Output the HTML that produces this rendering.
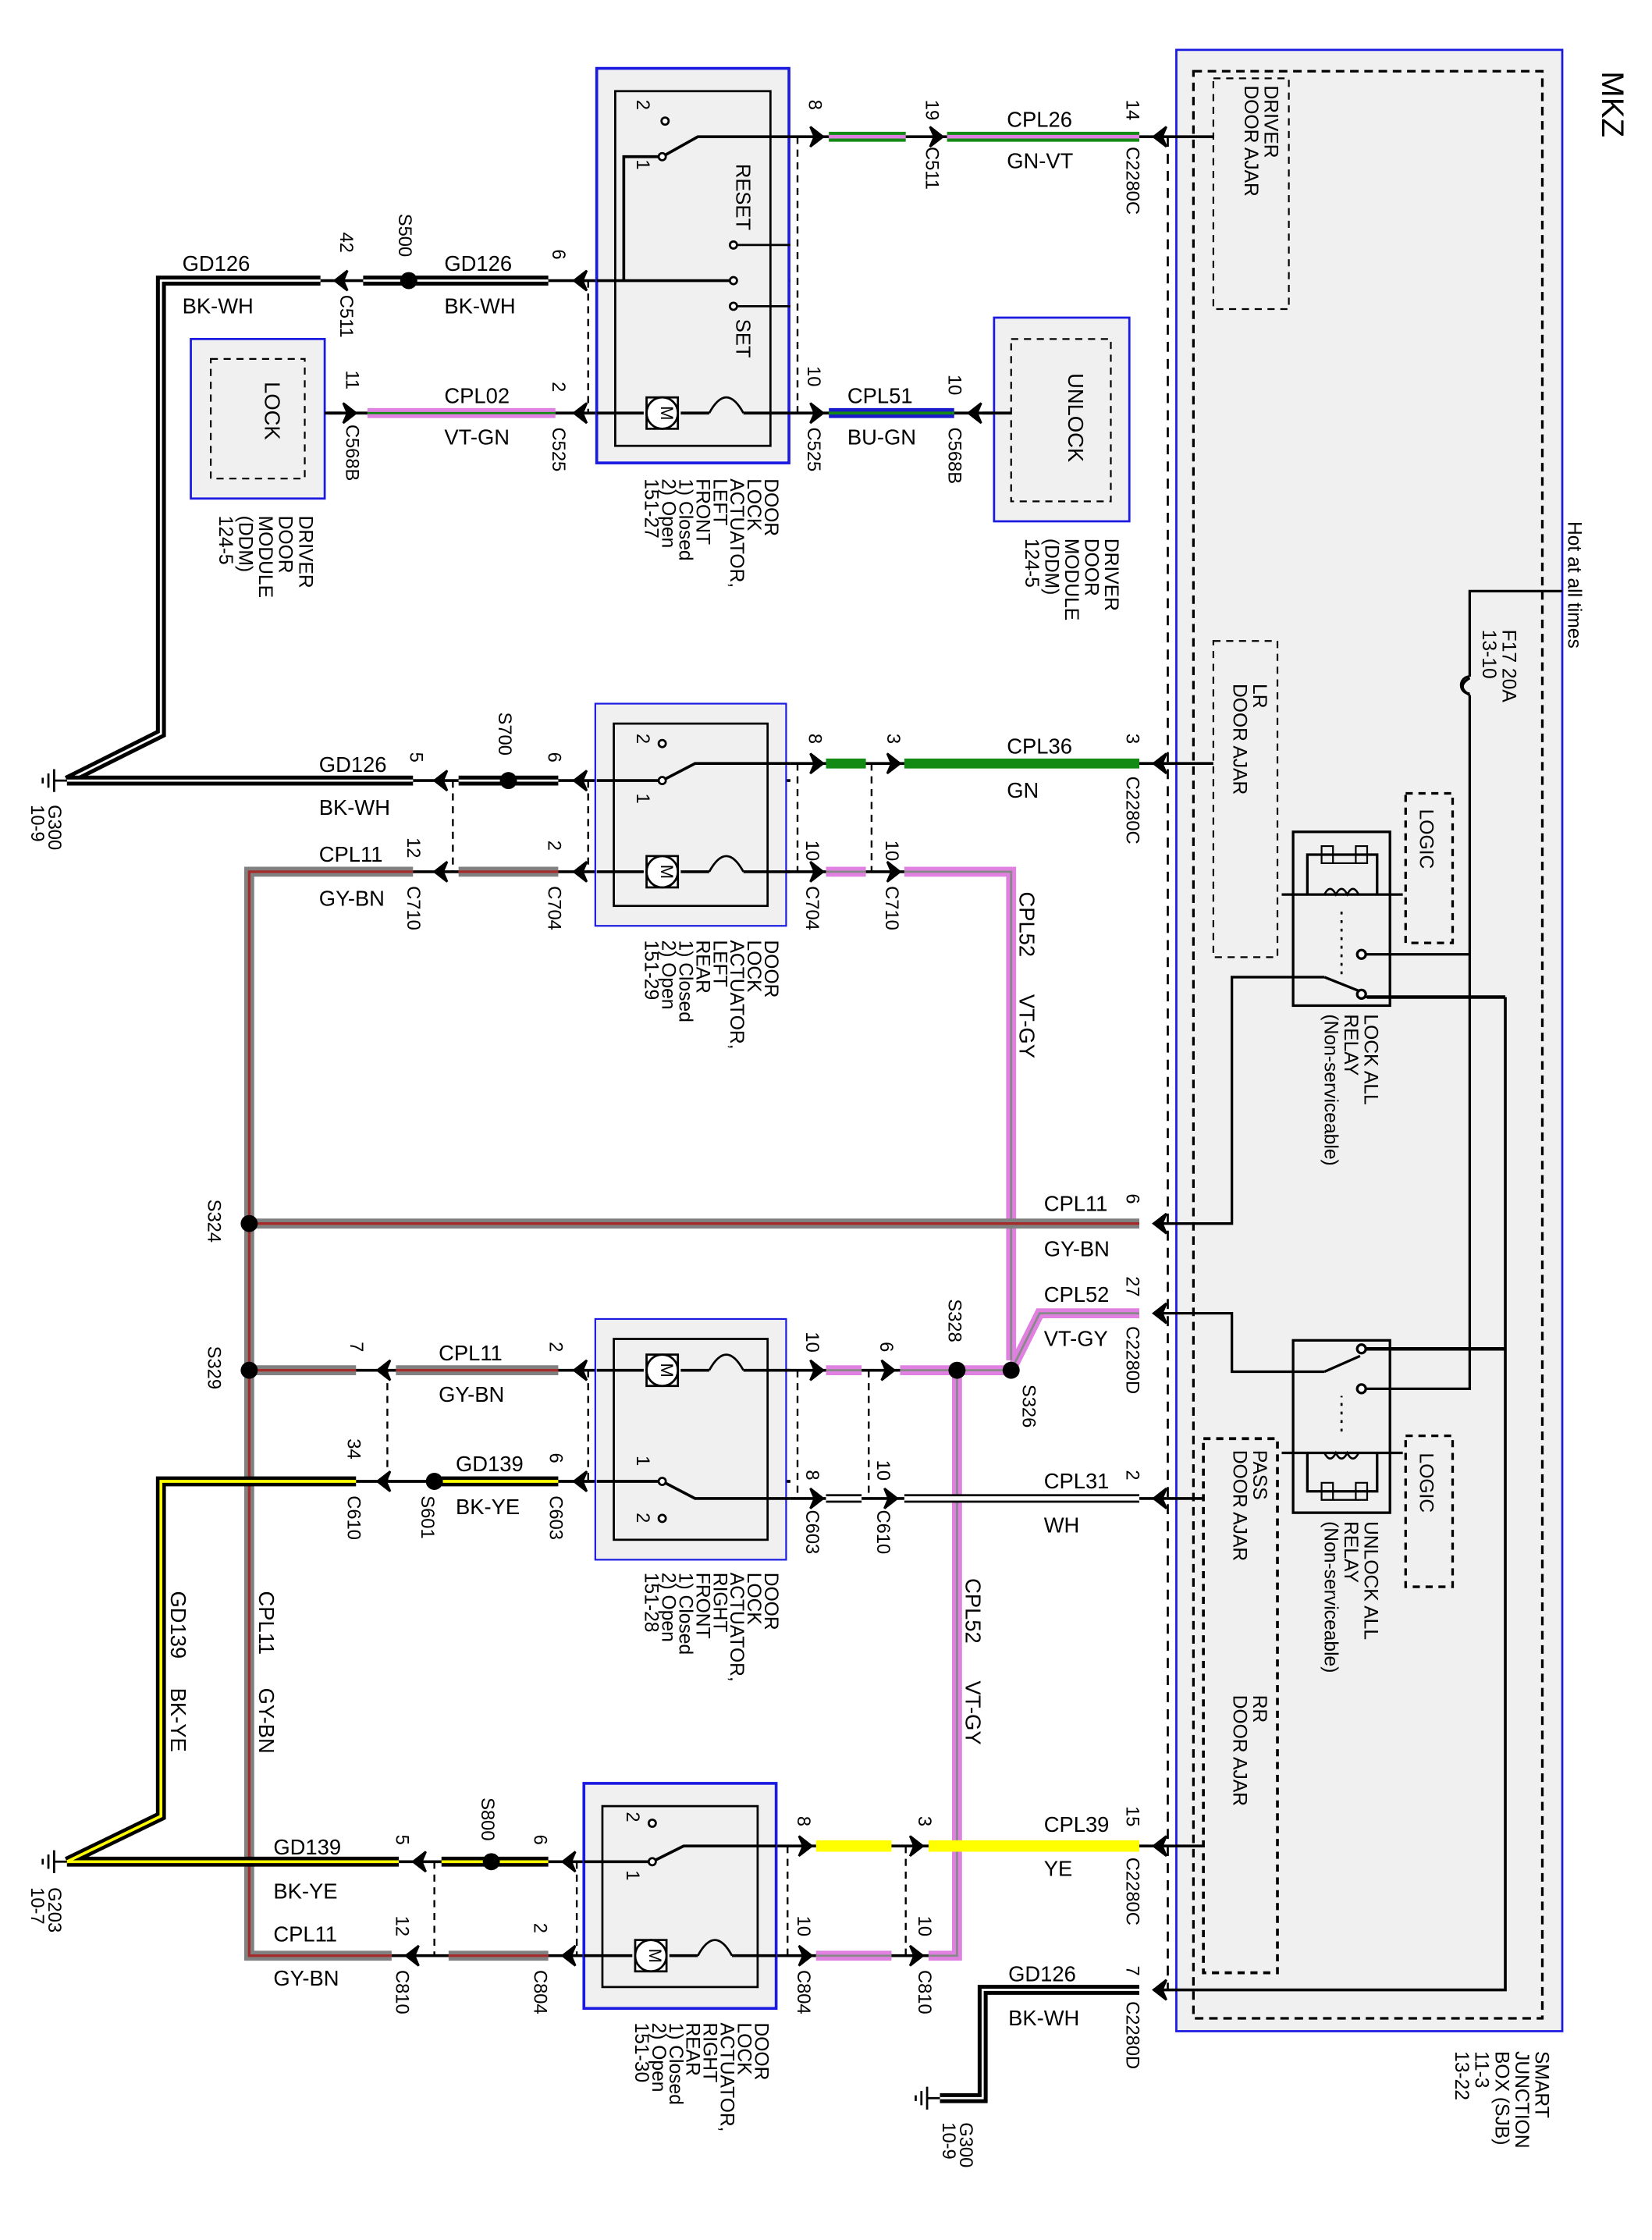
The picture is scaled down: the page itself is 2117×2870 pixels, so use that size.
<!DOCTYPE html>
<html><head><meta charset="utf-8"><style>
html,body{margin:0;padding:0;background:#fff}
svg{display:block}
text{font-family:"Liberation Sans",Arial,sans-serif;fill:#000}
.wl{font-size:15px}
.rt{font-size:13.5px}
.pn{font-size:13px}
</style></head><body>
<svg width="2117" height="2870" viewBox="0 0 1160 1572.6" preserveAspectRatio="none" xmlns="http://www.w3.org/2000/svg">
<defs>
<path id="al" d="M0,0 L9,-7 L6,0 L9,7 Z" fill="#000" stroke="#000" stroke-width="1.5"/>
<path id="ar" d="M0,0 L-9,-7 L-6,0 L-9,7 Z" fill="#000" stroke="#000" stroke-width="1.5"/>
</defs>
<rect width="1160" height="1572.6" fill="#fff"/>

<!-- SJB -->
<rect x="826" y="35" width="271" height="1391" fill="#f0f0f0" stroke="#1a1ae0" stroke-width="1.5"/>
<rect x="838" y="50" width="245" height="1367" fill="none" stroke="#000" stroke-width="1.8" stroke-dasharray="6,4"/>
<text class="wl" font-size="22" style="font-size:22px" transform="translate(1125,50) rotate(90)">MKZ</text>
<text class="rt" transform="translate(1101,366) rotate(90)">Hot at all times</text>
<g class="rt">
<text transform="translate(1078,1440) rotate(90)"><tspan x="0">SMART</tspan><tspan x="0" dy="14">JUNCTION</tspan><tspan x="0" dy="14">BOX (SJB)</tspan><tspan x="0" dy="14">11-3</tspan><tspan x="0" dy="14">13-22</tspan></text>
</g>
<!-- door ajar boxes -->
<g fill="none" stroke="#000" stroke-width="1.2" stroke-dasharray="5,4">
<rect x="852" y="55" width="53" height="162"/>
<rect x="852" y="450" width="45" height="222"/>
<rect x="845" y="1010" width="52" height="375" stroke-width="2"/>
<rect x="987" y="557" width="33" height="105" stroke-width="1.8"/>
<rect x="987" y="1008" width="33" height="106" stroke-width="1.8"/>
</g>
<g class="rt">
<text transform="translate(888,60) rotate(90)"><tspan x="0">DRIVER</tspan><tspan x="0" dy="14">DOOR AJAR</tspan></text>
<text transform="translate(880,480) rotate(90)"><tspan x="0">LR</tspan><tspan x="0" dy="14">DOOR AJAR</tspan></text>
<text transform="translate(880,1018) rotate(90)"><tspan x="0">PASS</tspan><tspan x="0" dy="14">DOOR AJAR</tspan></text>
<text transform="translate(880,1190) rotate(90)"><tspan x="0">RR</tspan><tspan x="0" dy="14">DOOR AJAR</tspan></text>
<text transform="translate(997,568) rotate(90)">LOGIC</text>
<text transform="translate(997,1020) rotate(90)">LOGIC</text>
<text transform="translate(958,712) rotate(90)"><tspan x="0">LOCK ALL</tspan><tspan x="0" dy="14">RELAY</tspan><tspan x="0" dy="14">(Non-serviceable)</tspan></text>
<text transform="translate(958,1068) rotate(90)"><tspan x="0">UNLOCK ALL</tspan><tspan x="0" dy="14">RELAY</tspan><tspan x="0" dy="14">(Non-serviceable)</tspan></text>
<text transform="translate(1055,442) rotate(90)"><tspan x="0">F17   20A</tspan><tspan x="0" dy="14">13-10</tspan></text>
</g>
<!-- power lines -->
<g fill="none" stroke="#000" stroke-width="1.8">
<path d="M1097,415 H1032 V475"/>
<path d="M1032,475 a6,6 0 0 0 0,12 a6,6 0 0 0 0,0"/>
<path d="M1032,476 q-10,6 0,12"/>
<path d="M1032,488 V975 H958"/>
<path d="M1032,670 H958"/>
<path d="M1057,700 V1397 H810" stroke-width="2"/>
<path d="M960,700 H1057" stroke-width="2.5"/>
<path d="M958,947 H1057" stroke-width="2.5"/>
<path d="M810,859 H865 V686 H930"/>
<path d="M810,922 H865 V963 H930"/>
</g>
<!-- relays -->
<g fill="none" stroke="#000" stroke-width="1.8">
<rect x="908" y="584" width="68" height="122"/>
<path d="M900,628 H985 M918,628 V600 H967 V628"/>
<path d="M928,594 h8 v12 h16 v-12 h8 v12 h-32 z" stroke-width="1.2"/>
<path d="M930,628 q4,-8 8,0 q4,-8 8,0 q4,-8 8,0" stroke-width="1.4"/>
<path d="M942,640 V685" stroke-dasharray="2,4" stroke-width="1.5"/>
<path d="M930,686 L955,696 M955,700 H962"/>
<circle cx="956" cy="670" r="3" fill="#fff"/><circle cx="956" cy="698" r="3" fill="#fff"/>
<rect x="908" y="941" width="68" height="121"/>
<path d="M900,1020 H985 M918,1020 V1047 H967 V1020"/>
<path d="M928,1041 h8 v12 h16 v-12 h8 v12 h-32 z" stroke-width="1.2"/>
<path d="M930,1020 q4,8 8,0 q4,8 8,0 q4,8 8,0" stroke-width="1.4"/>
<path d="M942,1005 V980" stroke-dasharray="2,4" stroke-width="1.5"/>
<path d="M930,963 L955,952"/>
<circle cx="956" cy="947" r="3" fill="#fff"/><circle cx="956" cy="975" r="3" fill="#fff"/>
</g>

<!-- SJB dashed connector line -->
<path d="M820,96 V1397" stroke="#000" stroke-width="1.5" stroke-dasharray="7,5" fill="none"/>

<!-- ===== base black thin lines ===== -->
<g stroke="#000" stroke-width="2" fill="none">
<path d="M555,96 H852"/>
<path d="M230,290 H555 M555,290 H698"/>
<path d="M555,536 H852"/>
<path d="M555,612 H710 M555,548 H290"/>
<path d="M555,962 H710 M555,1052 H845"/>
<path d="M555,1040 H250"/>
<path d="M545,1296 H845 M545,1373 H672 M545,1307 H280 M545,1373 H175"/>
<path d="M555,197 H225"/>
<path d="M555,612 H175"/>
<path d="M555,962 H175"/>
</g>

<!-- ===== coloured wires ===== -->
<!-- GN-VT -->
<g fill="none">
<path d="M582,96 H636 M665,96 H800" stroke="#138a13" stroke-width="7"/>
<path d="M582,96 H636 M665,96 H800" stroke="#e080e0" stroke-width="2.5"/>
<!-- VT-GN -->
<path d="M258,290 H390" stroke="#e080e0" stroke-width="7"/>
<path d="M258,290 H390" stroke="#138a13" stroke-width="1.5"/>
<!-- BU-GN -->
<path d="M582,290 H670" stroke="#1a1acc" stroke-width="7"/>
<path d="M582,290 H670" stroke="#138a13" stroke-width="2"/>
<!-- GN solid -->
<path d="M580,536 H608 M635,536 H800" stroke="#138a13" stroke-width="7"/>
<!-- BK-WH GD126 top -->
<path d="M225,197 H113 V515 L47,548 M255,197 H385" stroke="#000" stroke-width="7"/>
<path d="M225,197 H113 V515 L47,548 M255,197 H385" stroke="#fff" stroke-width="1.5"/>
<path d="M290,548 H47 M322,548 H392" stroke="#000" stroke-width="7"/>
<path d="M290,548 H47 M322,548 H392" stroke="#fff" stroke-width="1.5"/>
<!-- BK-WH bottom -->
<path d="M800,1397 H690 V1473 H660" stroke="#000" stroke-width="7"/>
<path d="M800,1397 H690 V1473 H660" stroke="#fff" stroke-width="1.5"/>
<!-- VT-GY CPL52 -->
<path d="M580,612 H608 M635,612 H710 V955 M800,922 H730 L710,962 M580,962 H605 M632,962 H710 M672,962 V1373 H652 M573,1373 H626" stroke="#e080e0" stroke-width="7"/>
<path d="M580,612 H608 M635,612 H710 V955 M800,922 H730 L710,962 M580,962 H605 M632,962 H710 M672,962 V1373 H652 M573,1373 H626" stroke="#888" stroke-width="1.5"/>
<!-- GY-BN CPL11 -->
<path d="M290,612 H175 V1373 H275 M322,612 H392 M175,859 H800 M175,962 H250 M278,962 H392 M315,1373 H385" stroke="#808080" stroke-width="7"/>
<path d="M290,612 H175 V1373 H275 M322,612 H392 M175,859 H800 M175,962 H250 M278,962 H392 M315,1373 H385" stroke="#a52a2a" stroke-width="1.8"/>
<!-- BK-YE GD139 -->
<path d="M250,1040 H113 V1275 L47,1307 M310,1040 H392 M280,1307 H47 M310,1307 H385" stroke="#000" stroke-width="7"/>
<path d="M250,1040 H113 V1275 L47,1307 M310,1040 H392 M280,1307 H47 M310,1307 H385" stroke="#ffff00" stroke-width="2"/>
<!-- YE -->
<path d="M573,1296 H626 M652,1296 H800" stroke="#ffff00" stroke-width="8"/>
<!-- WH -->
<path d="M580,1052 H605 M635,1052 H800" stroke="#000" stroke-width="6"/>
<path d="M580,1052 H605 M635,1052 H800" stroke="#fff" stroke-width="3"/>
</g>

<!-- splices -->
<g fill="#000">
<circle cx="287" cy="197" r="6"/><circle cx="357" cy="548" r="6"/>
<circle cx="175" cy="859" r="6"/><circle cx="175" cy="962" r="6"/>
<circle cx="672" cy="962" r="6"/><circle cx="710" cy="962" r="6"/>
<circle cx="305" cy="1040" r="6"/><circle cx="345" cy="1307" r="6"/>
</g>

<!-- ground symbols -->
<g stroke="#000" stroke-width="1.5" fill="none">
<path d="M47,548 H38 M38,540 V556 M34,543 V553 M30,546 V550"/>
<path d="M47,1307 H38 M38,1299 V1315 M34,1302 V1312 M30,1305 V1309"/>
<path d="M660,1473 H651 M651,1465 V1481 M647,1468 V1478 M643,1471 V1475"/>
</g>

<!-- dashed connector ties -->
<g stroke="#000" stroke-width="1.3" stroke-dasharray="5,4" fill="none">
<path d="M413,197 V290 M560,96 V290"/>
<path d="M413,548 V612 M318,548 V612 M560,536 V612 M612,536 V612"/>
<path d="M413,962 V1040 M272,962 V1040 M560,962 V1052 M610,962 V1052"/>
<path d="M405,1307 V1373 M305,1307 V1373 M553,1296 V1373 M636,1296 V1373"/>
</g>

<!-- arrows -->
<g>
<use href="#al" x="810" y="96"/><use href="#al" x="810" y="536"/><use href="#al" x="810" y="859"/><use href="#al" x="810" y="922"/><use href="#al" x="810" y="1052"/><use href="#al" x="810" y="1296"/><use href="#al" x="810" y="1397"/>
<use href="#ar" x="578" y="96"/><use href="#ar" x="662" y="96"/>
<use href="#al" x="235" y="197"/><use href="#al" x="403" y="197"/>
<use href="#ar" x="250" y="290"/><use href="#al" x="403" y="290"/><use href="#ar" x="578" y="290"/><use href="#al" x="680" y="290"/>
<use href="#ar" x="578" y="536"/><use href="#ar" x="632" y="536"/>
<use href="#al" x="305" y="548"/><use href="#al" x="403" y="548"/>
<use href="#al" x="305" y="612"/><use href="#al" x="403" y="612"/><use href="#ar" x="578" y="612"/><use href="#ar" x="632" y="612"/>
<use href="#al" x="265" y="962"/><use href="#al" x="403" y="962"/><use href="#ar" x="578" y="962"/><use href="#ar" x="628" y="962"/>
<use href="#al" x="265" y="1040"/><use href="#al" x="403" y="1040"/><use href="#ar" x="578" y="1052"/><use href="#ar" x="630" y="1052"/>
<use href="#al" x="290" y="1307"/><use href="#al" x="395" y="1307"/><use href="#ar" x="570" y="1296"/><use href="#ar" x="648" y="1296"/>
<use href="#al" x="285" y="1373"/><use href="#al" x="395" y="1373"/><use href="#ar" x="570" y="1373"/><use href="#ar" x="648" y="1373"/>
</g>

<!-- DDM boxes -->
<rect x="134" y="238" width="94" height="112" fill="#f0f0f0" stroke="#1a1ae0" stroke-width="1.5"/>
<rect x="148" y="252" width="66" height="84" fill="none" stroke="#000" stroke-width="1.2" stroke-dasharray="5,4"/>
<rect x="698" y="223" width="95" height="143" fill="#f0f0f0" stroke="#1a1ae0" stroke-width="1.5"/>
<rect x="710" y="238" width="70" height="114" fill="none" stroke="#000" stroke-width="1.2" stroke-dasharray="5,4"/>
<path d="M228,290 H240" stroke="#000" stroke-width="2"/>
<path d="M690,290 H710" stroke="#000" stroke-width="2"/>
<text class="rt" transform="translate(186,268) rotate(90)" style="font-size:15px">LOCK</text>
<text class="rt" transform="translate(750,262) rotate(90)" style="font-size:15px">UNLOCK</text>
<text class="rt" transform="translate(210,362) rotate(90)"><tspan x="0">DRIVER</tspan><tspan x="0" dy="14">DOOR</tspan><tspan x="0" dy="14">MODULE</tspan><tspan x="0" dy="14">(DDM)</tspan><tspan x="0" dy="14">124-5</tspan></text>
<text class="rt" transform="translate(776,378) rotate(90)"><tspan x="0">DRIVER</tspan><tspan x="0" dy="14">DOOR</tspan><tspan x="0" dy="14">MODULE</tspan><tspan x="0" dy="14">(DDM)</tspan><tspan x="0" dy="14">124-5</tspan></text>

<!-- actuators -->
<g>
<rect x="419" y="48" width="135" height="277" fill="#f0f0f0" stroke="#1a1ae0" stroke-width="2"/>
<rect x="432" y="64" width="109" height="249" fill="none" stroke="#000" stroke-width="1.5"/>
<rect x="418" y="494" width="134" height="156" fill="#f0f0f0" stroke="#1a1ae0" stroke-width="1.2"/>
<rect x="431" y="508" width="108" height="128" fill="none" stroke="#000" stroke-width="1.5"/>
<rect x="418" y="926" width="134" height="169" fill="#f0f0f0" stroke="#1a1ae0" stroke-width="1.2"/>
<rect x="431" y="940" width="108" height="141" fill="none" stroke="#000" stroke-width="1.5"/>
<rect x="410" y="1252" width="135" height="158" fill="#f0f0f0" stroke="#1a1ae0" stroke-width="2"/>
<rect x="423" y="1268" width="109" height="127" fill="none" stroke="#000" stroke-width="1.5"/>
</g>
<!-- actuator internals -->
<g stroke="#000" stroke-width="2" fill="none">
<!-- LF -->
<path d="M419,197 H515 M438,197 V110 H465 L490,96 H555"/>
<path d="M515,172 H555 M515,215 H555" stroke-width="1.5"/>
<path d="M419,290 H452 M478,290 H498 M522,290 H555"/>
<path d="M498,290 q12,-22 24,0" stroke-width="1.5"/>
<path d="M419,548 H465 L488,536 H555"/>
<path d="M419,612 H452 M478,612 H498 M522,612 H555"/>
<path d="M498,612 q12,-22 24,0" stroke-width="1.5"/>
<path d="M419,962 H452 M478,962 H498 M522,962 H555"/>
<path d="M498,962 q12,-22 24,0" stroke-width="1.5"/>
<path d="M419,1040 H465 L488,1052 H555"/>
<path d="M410,1307 H458 L480,1296 H545"/>
<path d="M410,1373 H444 M470,1373 H490 M514,1373 H545"/>
<path d="M490,1373 q12,-22 24,0" stroke-width="1.5"/>
</g>
<g fill="#fff" stroke="#000" stroke-width="1.5">
<circle cx="465" cy="110" r="2.5"/><circle cx="467" cy="85" r="2.5"/>
<circle cx="515" cy="172" r="2.5"/><circle cx="515" cy="197" r="2.5"/><circle cx="515" cy="215" r="2.5"/>
<circle cx="465" cy="548" r="2.5"/><circle cx="465" cy="522" r="2.5"/>
<circle cx="465" cy="1040" r="2.5"/><circle cx="465" cy="1066" r="2.5"/>
<circle cx="458" cy="1307" r="2.5"/><circle cx="458" cy="1280" r="2.5"/>
<rect x="454" y="279" width="22" height="22"/><circle cx="465" cy="290" r="11"/>
<rect x="454" y="601" width="22" height="22"/><circle cx="465" cy="612" r="11"/>
<rect x="454" y="951" width="22" height="22"/><circle cx="465" cy="962" r="11"/>
<rect x="446" y="1362" width="22" height="22"/><circle cx="457" cy="1373" r="11"/>
</g>
<g class="pn">
<text transform="translate(460,290) rotate(90)" text-anchor="middle" dy="-4" style="font-size:12px">M</text>
<text transform="translate(460,612) rotate(90)" text-anchor="middle" dy="-4" style="font-size:12px">M</text>
<text transform="translate(460,962) rotate(90)" text-anchor="middle" dy="-4" style="font-size:12px">M</text>
<text transform="translate(452,1373) rotate(90)" text-anchor="middle" dy="-4" style="font-size:12px">M</text>
<text transform="translate(447,70) rotate(90)">2</text><text transform="translate(447,112) rotate(90)">1</text>
<text transform="translate(447,515) rotate(90)">2</text><text transform="translate(447,557) rotate(90)">1</text>
<text transform="translate(447,1022) rotate(90)">1</text><text transform="translate(447,1062) rotate(90)">2</text>
<text transform="translate(440,1272) rotate(90)">2</text><text transform="translate(440,1313) rotate(90)">1</text>
</g>
<text class="rt" transform="translate(517,115) rotate(90)" style="font-size:14px">RESET</text>
<text class="rt" transform="translate(517,224) rotate(90)" style="font-size:14px">SET</text>
<g class="rt">
<text transform="translate(537,336) rotate(90)"><tspan x="0">DOOR</tspan><tspan x="0" dy="12">LOCK</tspan><tspan x="0" dy="12">ACTUATOR,</tspan><tspan x="0" dy="12">LEFT</tspan><tspan x="0" dy="12">FRONT</tspan><tspan x="0" dy="12">1) Closed</tspan><tspan x="0" dy="12">2) Open</tspan><tspan x="0" dy="12">151-27</tspan></text>
<text transform="translate(537,660) rotate(90)"><tspan x="0">DOOR</tspan><tspan x="0" dy="12">LOCK</tspan><tspan x="0" dy="12">ACTUATOR,</tspan><tspan x="0" dy="12">LEFT</tspan><tspan x="0" dy="12">REAR</tspan><tspan x="0" dy="12">1) Closed</tspan><tspan x="0" dy="12">2) Open</tspan><tspan x="0" dy="12">151-29</tspan></text>
<text transform="translate(537,1104) rotate(90)"><tspan x="0">DOOR</tspan><tspan x="0" dy="12">LOCK</tspan><tspan x="0" dy="12">ACTUATOR,</tspan><tspan x="0" dy="12">RIGHT</tspan><tspan x="0" dy="12">FRONT</tspan><tspan x="0" dy="12">1) Closed</tspan><tspan x="0" dy="12">2) Open</tspan><tspan x="0" dy="12">151-28</tspan></text>
<text transform="translate(530,1420) rotate(90)"><tspan x="0">DOOR</tspan><tspan x="0" dy="12">LOCK</tspan><tspan x="0" dy="12">ACTUATOR,</tspan><tspan x="0" dy="12">RIGHT</tspan><tspan x="0" dy="12">REAR</tspan><tspan x="0" dy="12">1) Closed</tspan><tspan x="0" dy="12">2) Open</tspan><tspan x="0" dy="12">151-30</tspan></text>
</g>

<!-- wire labels horizontal -->
<g class="wl">
<text x="707" y="89">CPL26</text><text x="707" y="118">GN-VT</text>
<text x="128" y="190">GD126</text><text x="128" y="220">BK-WH</text>
<text x="312" y="190">GD126</text><text x="312" y="220">BK-WH</text>
<text x="312" y="283">CPL02</text><text x="312" y="312">VT-GN</text>
<text x="595" y="283">CPL51</text><text x="595" y="312">BU-GN</text>
<text x="707" y="529">CPL36</text><text x="707" y="560">GN</text>
<text x="224" y="542">GD126</text><text x="224" y="572">BK-WH</text>
<text x="224" y="605">CPL11</text><text x="224" y="636">GY-BN</text>
<text x="733" y="850">CPL11</text><text x="733" y="882">GY-BN</text>
<text x="733" y="914">CPL52</text><text x="733" y="945">VT-GY</text>
<text x="308" y="955">CPL11</text><text x="308" y="984">GY-BN</text>
<text x="320" y="1033">GD139</text><text x="320" y="1063">BK-YE</text>
<text x="733" y="1045">CPL31</text><text x="733" y="1076">WH</text>
<text x="733" y="1286">CPL39</text><text x="733" y="1317">YE</text>
<text x="192" y="1302">GD139</text><text x="192" y="1333">BK-YE</text>
<text x="192" y="1363">CPL11</text><text x="192" y="1394">GY-BN</text>
<text x="708" y="1391">GD126</text><text x="708" y="1422">BK-WH</text>
</g>
<!-- vertical wire labels -->
<g class="wl">
<text transform="translate(716,626) rotate(90)">CPL52</text><text transform="translate(716,698) rotate(90)">VT-GY</text>
<text transform="translate(678,1108) rotate(90)">CPL52</text><text transform="translate(678,1180) rotate(90)">VT-GY</text>
<text transform="translate(182,1117) rotate(90)">CPL11</text><text transform="translate(182,1185) rotate(90)">GY-BN</text>
<text transform="translate(120,1117) rotate(90)">GD139</text><text transform="translate(120,1185) rotate(90)">BK-YE</text>
</g>

<!-- pin numbers & connector names (rotated) -->
<g class="pn">
<text transform="translate(791,70) rotate(90)">14</text><text transform="translate(791,103) rotate(90)">C2280C</text>
<text transform="translate(650,70) rotate(90)">19</text><text transform="translate(650,103) rotate(90)">C511</text>
<text transform="translate(568,70) rotate(90)">8</text>
<text transform="translate(239,163) rotate(90)">42</text><text transform="translate(239,207) rotate(90)">C511</text>
<text transform="translate(280,150) rotate(90)">S500</text>
<text transform="translate(388,175) rotate(90)">6</text>
<text transform="translate(243,260) rotate(90)">11</text><text transform="translate(243,298) rotate(90)">C568B</text>
<text transform="translate(388,268) rotate(90)">2</text><text transform="translate(388,300) rotate(90)">C525</text>
<text transform="translate(567,257) rotate(90)">10</text><text transform="translate(567,300) rotate(90)">C525</text>
<text transform="translate(666,263) rotate(90)">10</text><text transform="translate(666,300) rotate(90)">C568B</text>
<text transform="translate(791,515) rotate(90)">3</text><text transform="translate(791,545) rotate(90)">C2280C</text>
<text transform="translate(568,515) rotate(90)">8</text>
<text transform="translate(623,515) rotate(90)">3</text>
<text transform="translate(350,500) rotate(90)">S700</text>
<text transform="translate(385,528) rotate(90)">6</text><text transform="translate(288,528) rotate(90)">5</text>
<text transform="translate(286,588) rotate(90)">12</text><text transform="translate(286,622) rotate(90)">C710</text>
<text transform="translate(385,590) rotate(90)">2</text><text transform="translate(385,622) rotate(90)">C704</text>
<text transform="translate(566,590) rotate(90)">10</text><text transform="translate(566,622) rotate(90)">C704</text>
<text transform="translate(622,590) rotate(90)">10</text><text transform="translate(622,622) rotate(90)">C710</text>
<text transform="translate(791,838) rotate(90)">6</text>
<text transform="translate(146,842) rotate(90)">S324</text>
<text transform="translate(791,896) rotate(90)">27</text><text transform="translate(791,931) rotate(90)">C2280D</text>
<text transform="translate(666,912) rotate(90)">S328</text>
<text transform="translate(718,972) rotate(90)">S326</text>
<text transform="translate(146,945) rotate(90)">S329</text>
<text transform="translate(246,942) rotate(90)">7</text>
<text transform="translate(386,942) rotate(90)">2</text>
<text transform="translate(566,935) rotate(90)">10</text>
<text transform="translate(618,942) rotate(90)">6</text>
<text transform="translate(244,1010) rotate(90)">34</text><text transform="translate(244,1050) rotate(90)">C610</text>
<text transform="translate(296,1050) rotate(90)">S601</text>
<text transform="translate(386,1020) rotate(90)">6</text><text transform="translate(386,1050) rotate(90)">C603</text>
<text transform="translate(566,1032) rotate(90)">8</text><text transform="translate(566,1060) rotate(90)">C603</text>
<text transform="translate(616,1025) rotate(90)">10</text><text transform="translate(616,1060) rotate(90)">C610</text>
<text transform="translate(791,1032) rotate(90)">2</text>
<text transform="translate(791,1268) rotate(90)">15</text><text transform="translate(791,1304) rotate(90)">C2280C</text>
<text transform="translate(560,1275) rotate(90)">8</text>
<text transform="translate(645,1275) rotate(90)">3</text>
<text transform="translate(338,1262) rotate(90)">S800</text>
<text transform="translate(375,1288) rotate(90)">6</text><text transform="translate(278,1288) rotate(90)">5</text>
<text transform="translate(278,1345) rotate(90)">12</text><text transform="translate(278,1383) rotate(90)">C810</text>
<text transform="translate(375,1350) rotate(90)">2</text><text transform="translate(375,1383) rotate(90)">C804</text>
<text transform="translate(560,1345) rotate(90)">10</text><text transform="translate(560,1383) rotate(90)">C804</text>
<text transform="translate(645,1345) rotate(90)">10</text><text transform="translate(645,1383) rotate(90)">C810</text>
<text transform="translate(791,1380) rotate(90)">7</text><text transform="translate(791,1405) rotate(90)">C2280D</text>
<text transform="translate(34,565) rotate(90)"><tspan x="0">G300</tspan><tspan x="0" dy="12">10-9</tspan></text>
<text transform="translate(34,1325) rotate(90)"><tspan x="0">G203</tspan><tspan x="0" dy="12">10-7</tspan></text>
<text transform="translate(674,1490) rotate(90)"><tspan x="0">G300</tspan><tspan x="0" dy="12">10-9</tspan></text>
</g>
</svg>
</body></html>
